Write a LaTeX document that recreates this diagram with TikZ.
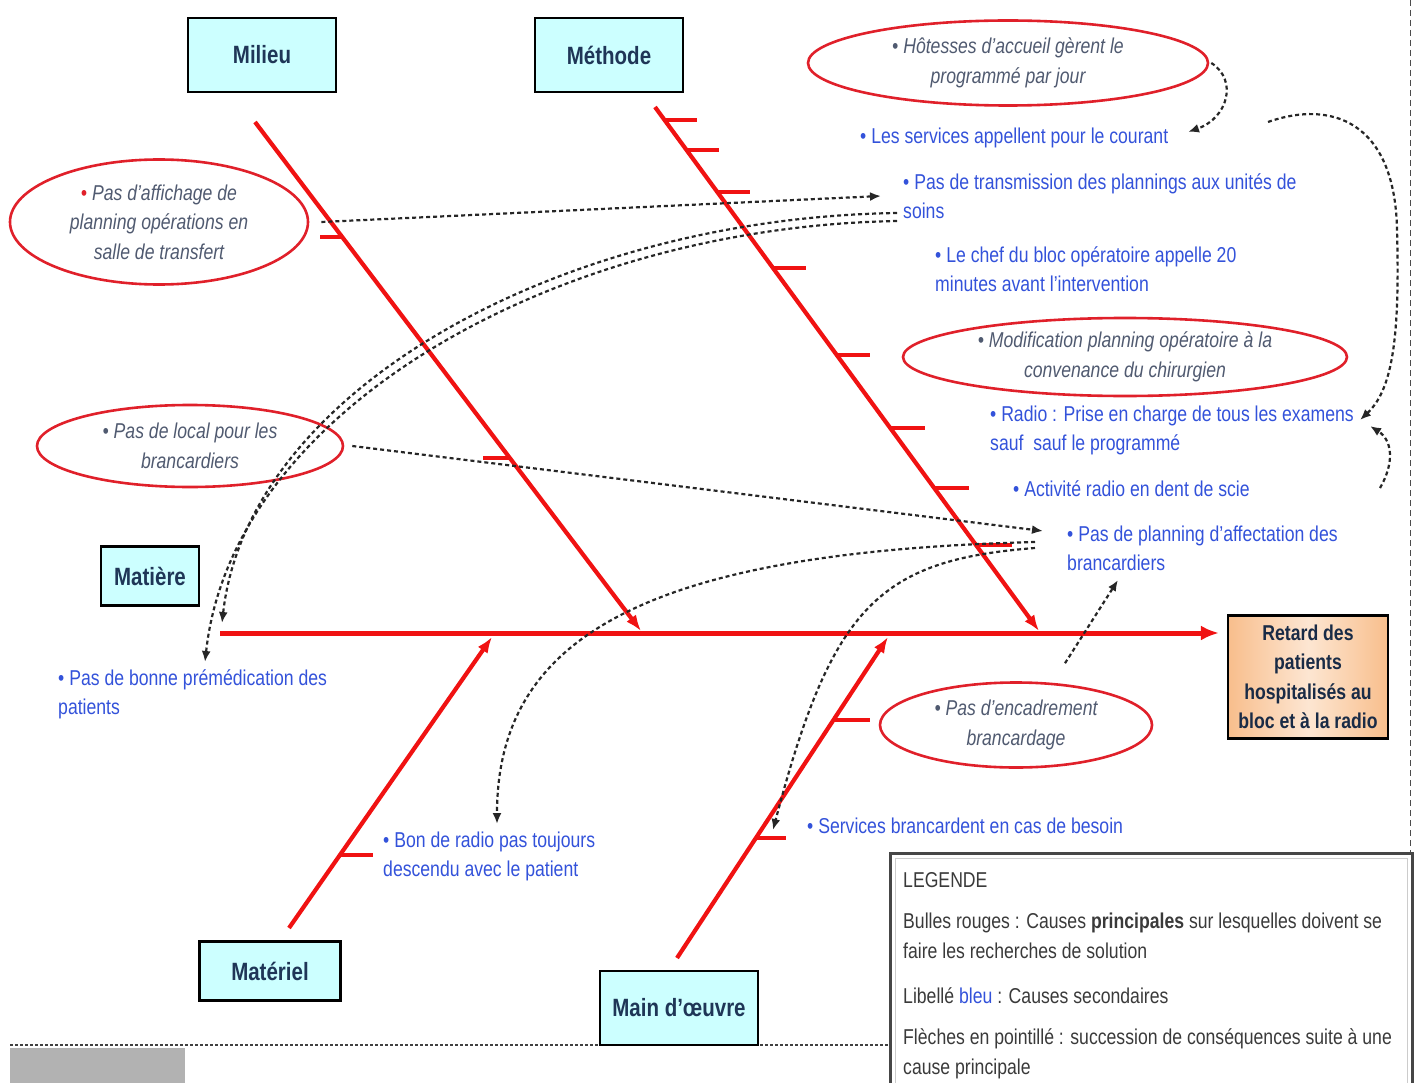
\documentclass[tikz,border=0pt]{standalone}
\usepackage{fontspec}
\setmainfont{Liberation Sans}[FakeStretch=0.82]
\usetikzlibrary{shapes.geometric,arrows.meta,calc}
\definecolor{bone}{HTML}{F01212}
\definecolor{ellred}{HTML}{E0202A}
\definecolor{bluetxt}{HTML}{3352DA}
\definecolor{elltxt}{HTML}{505A70}
\definecolor{navy}{HTML}{1F3657}
\definecolor{boxfill}{HTML}{CCFFFF}
\definecolor{peach}{HTML}{F8BE8C}
\definecolor{peachl}{HTML}{FDE6D2}
\definecolor{legtxt}{HTML}{3A3A3A}
\begin{document}
\begin{tikzpicture}[x=1pt,y=-1pt,
  catbox/.style={draw=black, line width=2.2pt, fill=boxfill, text=navy,
    font=\fontsize{25}{30}\selectfont\bfseries, inner sep=0pt},
  bubble/.style={ellipse, draw=ellred, line width=2.6pt, inner sep=0pt, align=center,
    text=elltxt, font=\fontsize{21.5}{29.5}\selectfont\itshape},
  bluet/.style={anchor=west, align=left, inner sep=0pt, text=bluetxt,
    font=\fontsize{21.5}{29}\selectfont},
  legt/.style={anchor=west, align=left, inner sep=0pt, text=legtxt,
    font=\fontsize{21.5}{30}\selectfont},
  bonestyle/.style={draw=bone, line width=4.2pt, -{Latex[length=16pt,width=12pt]}},
  ticks/.style={draw=bone, line width=4.2pt},
  conn/.style={draw=black!85, line width=2.2pt, dash pattern=on 4pt off 3pt,
    -{Latex[length=11pt,width=9pt]}}
]
\useasboundingbox (0,0) rectangle (1420,1083);

% page frame marks
\draw[black!70, line width=1pt, dash pattern=on 6pt off 4pt] (1410,0) -- (1410,852);
\fill[gray!60] (10,1048) rectangle (185,1083);
\draw[black!75, line width=1.8pt, dash pattern=on 3pt off 2pt] (10,1045) -- (890,1045);

% category boxes
\node[catbox, minimum width=148, minimum height=74] (milieu) at (262,55) {Milieu};
\node[catbox, minimum width=148, minimum height=74] (methode) at (609,55) {Méthode};
\node[catbox, minimum width=98, minimum height=59] (matiere) at (150,576) {Matière};
\node[catbox, minimum width=141, minimum height=59] (materiel) at (270,971) {Matériel};
\node[catbox, minimum width=158, minimum height=74] (mainoeuvre) at (679,1008) {Main d’œuvre};

% effect box
\node[draw=black, line width=2.2pt, left color=peach, right color=peach, middle color=peachl,
  minimum width=160, minimum height=123, align=center, inner sep=0pt, text=navy!80!black,
  font=\fontsize{21.5}{29.5}\selectfont\bfseries] (retard) at (1308,677)
  {Retard des\\patients\\hospitalisés au\\bloc et à la radio};

% bone coordinates
\coordinate (spS) at (220,633);
\coordinate (milA) at (255,122);   \coordinate (milB) at (641,631);
\coordinate (metA) at (655,107);   \coordinate (metB) at (1039,631);
\coordinate (matA) at (289,928);   \coordinate (matB) at (492,637);
\coordinate (moA) at (677,958);    \coordinate (moB) at (888,637);

% spine and bones
\draw[draw=bone, line width=5pt, -{Latex[length=18pt,width=15pt]}] (spS) -- ($(retard.west)+(-8,-44)$);
\draw[bonestyle] (milA) -- (milB);
\draw[bonestyle] (metA) -- (metB);
\draw[bonestyle] (matA) -- (matB);
\draw[bonestyle] (moA) -- (moB);

% ticks
\draw[ticks] (320,237) -- (343,237);
\draw[ticks] (483,458) -- (509,458);
\draw[ticks] (664,120) -- (697,120);
\draw[ticks] (686,150) -- (719,150);
\draw[ticks] (717,192) -- (750,192);
\draw[ticks] (773,268) -- (806,268);
\draw[ticks] (836,355) -- (870,355);
\draw[ticks] (890,428) -- (925,428);
\draw[ticks] (934,488) -- (969,488);
\draw[ticks] (975,545) -- (1012,545);
\draw[ticks] (341,855) -- (373,855);
\draw[ticks] (833,720) -- (870,720);
\draw[ticks] (756,838) -- (786,838);

% bubbles (principal causes)
\node[bubble, minimum width=400, minimum height=85] (hot) at (1008,63)
  {• Hôtesses d’accueil gèrent le\\programmé par jour};
\node[bubble, minimum width=298, minimum height=125] (aff) at (159,222)
  {{\color{ellred}•} Pas d’affichage de\\planning opérations en\\salle de transfert};
\node[bubble, minimum width=306, minimum height=82] (local) at (190,446)
  {• Pas de local pour les\\brancardiers};
\node[bubble, minimum width=444, minimum height=78] (modif) at (1125,357)
  {• Modification planning opératoire à la\\convenance du chirurgien};
\node[bubble, minimum width=272, minimum height=85] (enc) at (1016,725)
  {• Pas d’encadrement\\brancardage};

% secondary causes
\node[bluet] (les) at (860,138) {• Les services appellent pour le courant};
\node[bluet] (trans) at (903,196) {• Pas de transmission des plannings aux unités de\\soins};
\node[bluet] (chef) at (935,269) {• Le chef du bloc opératoire appelle 20\\minutes avant l’intervention};
\node[bluet] (radio) at (990,430) {• Radio : Prise en charge de tous les examens\\sauf\ \ sauf le programmé};
\node[bluet] (activ) at (1013,489) {• Activité radio en dent de scie};
\node[bluet] (pplan) at (1067,548) {• Pas de planning d’affectation des\\brancardiers};
\node[bluet] (premed) at (58,694) {• Pas de bonne prémédication des\\patients};
\node[bluet] (bonradio) at (383,856) {• Bon de radio pas toujours\\descendu avec le patient};
\node[bluet] (serv) at (807,826) {• Services brancardent en cas de besoin};

% free ends
\coordinate (hstart) at (1268,122);
\coordinate (istart) at (1380,488);

% consequence arrows
\draw[conn] ($(aff.east)+(12,0)$) -- ($(trans.west)+(-22,0)$);
\draw[conn] ($(trans.west)+(-6,17)$) .. controls (560,218) and (248,390) .. ($(spS)+(2,-10)$);
\draw[conn] ($(trans.west)+(-6,25)$) .. controls (555,227) and (232,410) .. ($(premed.west)+(147,-32)$);
\draw[conn] ($(local.east)+(8,0)$) -- ($(pplan.west)+(-24,-17)$);
\draw[conn] ($(pplan.west)+(-32,-6)$) .. controls (640,552) and (497,640) .. ($(bonradio.west)+(114,-32)$);
\draw[conn] ($(pplan.west)+(-32,0)$) .. controls (880,560) and (832,605) .. ($(serv.west)+(-34,4)$);
\draw[conn] ($(enc.north)+(49,-18)$) -- ($(pplan.west)+(51,32)$);
\draw[conn] ($(hot.east)+(2,0)$) .. controls (1238,80) and (1228,118) .. ($(les.west)+(328,-6)$);
\draw[conn] (hstart) .. controls (1330,100) and (1395,120) .. (1397,230)
  .. controls (1400,340) and (1392,390) .. ($(radio.west)+(370,-10)$);
\draw[conn] (istart) .. controls (1395,462) and (1392,440) .. ($(radio.west)+(380,-4)$);

% legend
\draw[gray!55!black, line width=3pt] (890,853) rectangle (1412,1100);
\draw[gray!40, line width=1pt] (895,858) rectangle (1407,1100);
\node[legt] (leg1) at (903,880) {LEGENDE};
\node[legt] (leg2) at (903,936) {Bulles rouges : Causes \textbf{principales} sur lesquelles doivent se\\faire les recherches de solution};
\node[legt] (leg3) at (903,996) {Libellé {\color{bluetxt}bleu} : Causes secondaires};
\node[legt] (leg4) at (903,1054) {Flèches en pointillé : succession de conséquences suite à une\\cause principale};
\end{tikzpicture}
\end{document}
